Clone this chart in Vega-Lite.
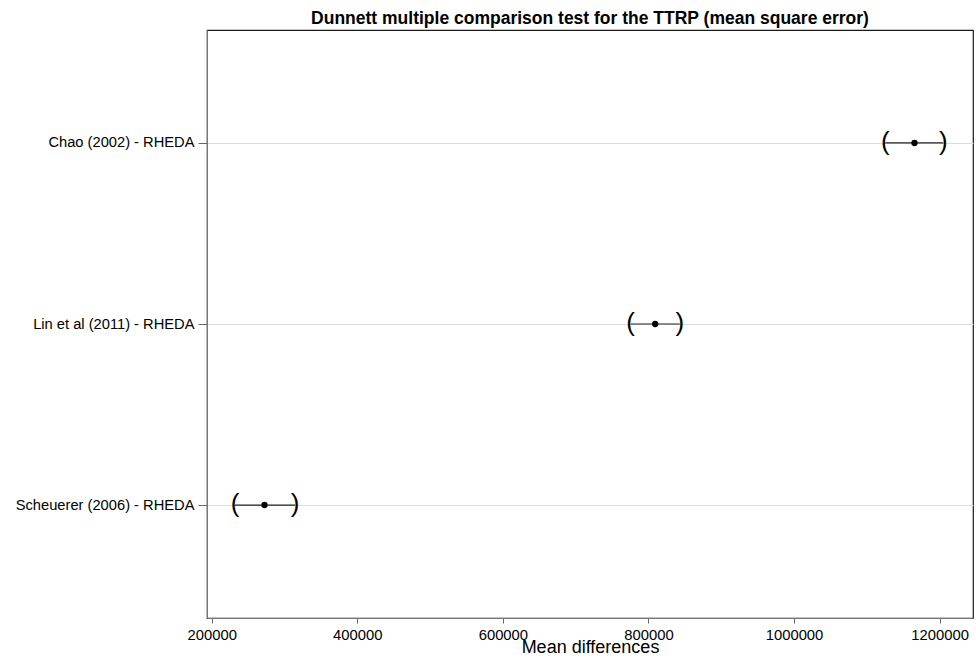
{
  "$schema": "https://vega.github.io/schema/vega-lite/v6.json",
  "autosize": {"type": "none"},
  "width": 766,
  "height": 588,
  "padding": {"left": 207, "top": 30, "right": 3, "bottom": 41},
  "background": "white",
  "config": {
    "font": "Liberation Sans",
    "view": {"stroke": "#1a1a1a", "strokeWidth": 1.2}
  },
  "title": {
    "text": "Dunnett multiple comparison test for the TTRP (mean square error)",
    "fontSize": 17.5,
    "fontWeight": "bold",
    "font": "Liberation Sans",
    "color": "#000",
    "anchor": "middle",
    "offset": 3
  },
  "data": {
    "values": [
      {"comparison": "Chao (2002) - RHEDA", "diff": 1165500, "lo": 1125400, "hi": 1205100},
      {"comparison": "Lin et al (2011) - RHEDA", "diff": 809300, "lo": 775600, "hi": 843000},
      {"comparison": "Scheuerer (2006) - RHEDA", "diff": 272500, "lo": 232000, "hi": 314500}
    ]
  },
  "encoding": {
    "y": {
      "field": "comparison",
      "type": "nominal",
      "sort": ["Chao (2002) - RHEDA", "Lin et al (2011) - RHEDA", "Scheuerer (2006) - RHEDA"],
      "scale": {"type": "point", "padding": 0.624},
      "axis": {
        "title": null,
        "labelFontSize": 14.7,
        "labelColor": "#000",
        "labelPadding": 4,
        "tickSize": 9,
        "tickColor": "#666",
        "domainColor": "#777",
        "grid": true,
        "gridColor": "#dcdcdc",
        "gridWidth": 1
      }
    }
  },
  "layer": [
    {
      "mark": {"type": "rule", "color": "#222", "strokeWidth": 1.2},
      "encoding": {
        "x": {
          "field": "lo",
          "type": "quantitative",
          "scale": {"domain": [193540, 1245900], "nice": false, "zero": false},
          "axis": {
            "title": "Mean differences",
            "titleFontSize": 18,
            "titleFontWeight": "normal",
            "titleColor": "#000",
            "titlePadding": -3,
            "values": [200000, 400000, 600000, 800000, 1000000, 1200000],
            "format": "d",
            "labelFontSize": 14.8,
            "labelColor": "#000",
            "labelPadding": 4,
            "tickSize": 5,
            "tickColor": "#666",
            "domainColor": "#777",
            "grid": false
          }
        },
        "x2": {"field": "hi"}
      }
    },
    {
      "mark": {"type": "point", "filled": true, "color": "#000", "size": 40, "opacity": 1},
      "encoding": {"x": {"field": "diff", "type": "quantitative"}}
    },
    {
      "mark": {"type": "text", "text": "(", "fontSize": 26, "color": "#000", "baseline": "middle", "align": "center", "dy": -1},
      "encoding": {"x": {"field": "lo", "type": "quantitative"}}
    },
    {
      "mark": {"type": "text", "text": ")", "fontSize": 26, "color": "#000", "baseline": "middle", "align": "center", "dy": -1},
      "encoding": {"x": {"field": "hi", "type": "quantitative"}}
    }
  ]
}
